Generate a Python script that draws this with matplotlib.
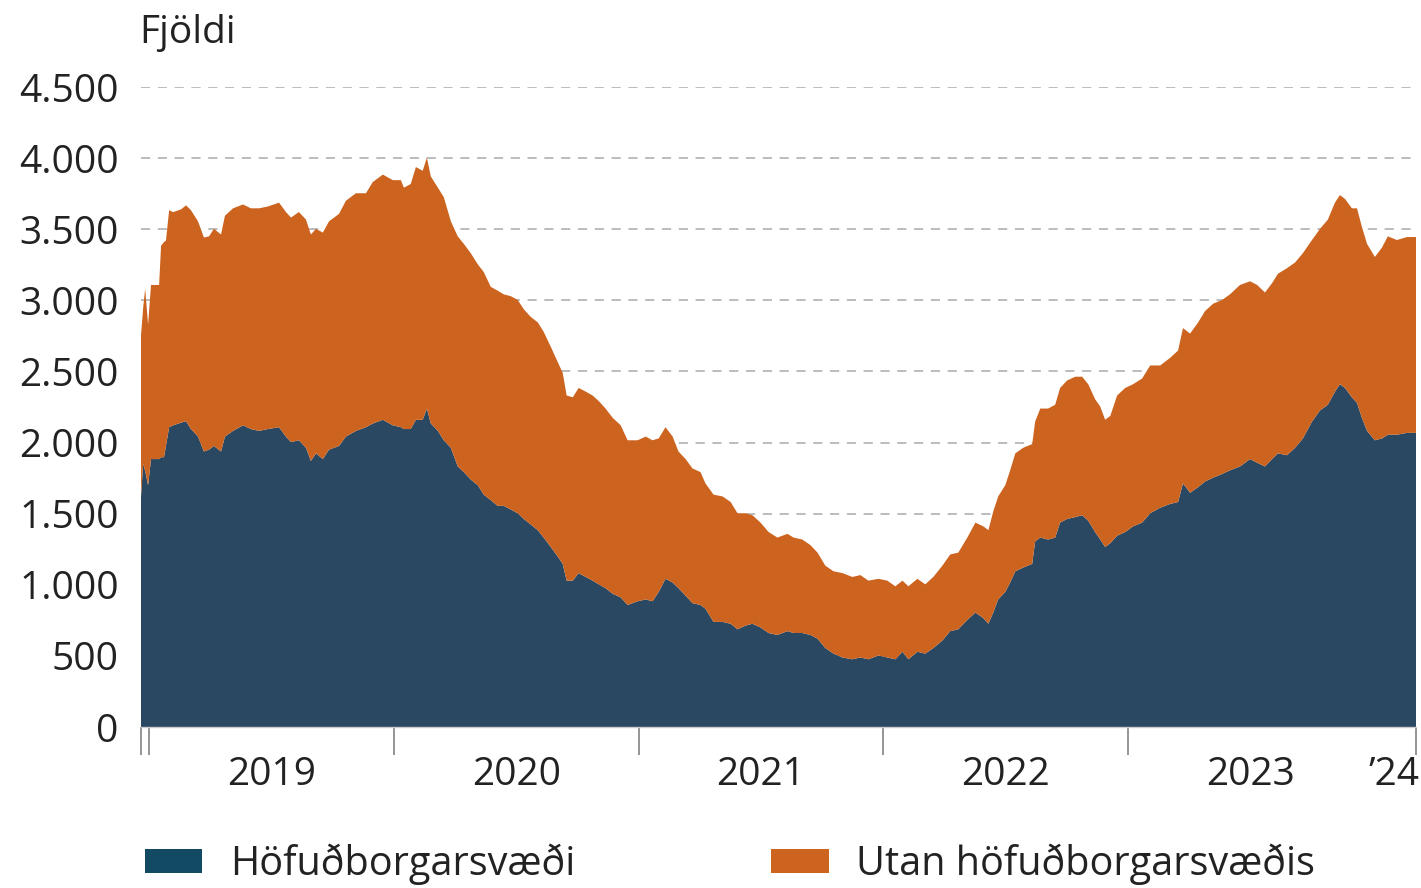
import numpy as np
import matplotlib
matplotlib.use("Agg")
import matplotlib.pyplot as plt
from matplotlib.patches import Patch
from matplotlib.ticker import FuncFormatter, FixedLocator

# Tími sem tugabrot af ári (lesið af mynd)
ar = [2018.967, 2018.976, 2018.984, 2018.996, 2019.008, 2019.041, 2019.049, 2019.061,
      2019.069, 2019.082, 2019.098, 2019.131, 2019.151, 2019.171, 2019.200, 2019.224,
      2019.245, 2019.265, 2019.294, 2019.310, 2019.343, 2019.384, 2019.416, 2019.449,
      2019.486, 2019.531, 2019.559, 2019.580, 2019.612, 2019.641, 2019.661, 2019.682,
      2019.710, 2019.735, 2019.776, 2019.804, 2019.845, 2019.886, 2019.914, 2019.955,
      2019.996, 2020.029, 2020.041, 2020.069, 2020.090, 2020.118, 2020.135, 2020.151,
      2020.180, 2020.204, 2020.233, 2020.261, 2020.286, 2020.314, 2020.343, 2020.367,
      2020.396, 2020.424, 2020.449, 2020.478, 2020.506, 2020.531, 2020.559, 2020.588,
      2020.612, 2020.641, 2020.669, 2020.690, 2020.706, 2020.731, 2020.755, 2020.784,
      2020.812, 2020.837, 2020.865, 2020.894, 2020.927, 2020.955, 2020.996, 2021.029,
      2021.057, 2021.082, 2021.110, 2021.139, 2021.163, 2021.192, 2021.220, 2021.253,
      2021.273, 2021.306, 2021.343, 2021.376, 2021.404, 2021.437, 2021.465, 2021.498,
      2021.531, 2021.567, 2021.608, 2021.633, 2021.669, 2021.702, 2021.731, 2021.763,
      2021.796, 2021.833, 2021.873, 2021.906, 2021.939, 2021.980, 2022.016, 2022.049,
      2022.078, 2022.102, 2022.139, 2022.171, 2022.204, 2022.241, 2022.273, 2022.306,
      2022.343, 2022.376, 2022.408, 2022.429, 2022.449, 2022.469, 2022.498, 2022.518,
      2022.539, 2022.571, 2022.608, 2022.620, 2022.641, 2022.673, 2022.702, 2022.722,
      2022.751, 2022.784, 2022.812, 2022.837, 2022.865, 2022.886, 2022.906, 2022.927,
      2022.955, 2022.988, 2023.020, 2023.057, 2023.090, 2023.131, 2023.171, 2023.204,
      2023.224, 2023.253, 2023.286, 2023.314, 2023.347, 2023.384, 2023.416, 2023.457,
      2023.498, 2023.527, 2023.559, 2023.588, 2023.612, 2023.649, 2023.682, 2023.714,
      2023.751, 2023.784, 2023.816, 2023.845, 2023.865, 2023.886, 2023.914, 2023.935,
      2023.955, 2023.976, 2024.008, 2024.037, 2024.061, 2024.098, 2024.139, 2024.176]

# Heildarfjöldi (efri brún)
heild = [2753, 2950, 3082, 2830, 3108, 3108, 3384, 3410,
         3420, 3634, 3620, 3640, 3668, 3634, 3555, 3442,
         3450, 3503, 3463, 3595, 3647, 3674, 3647, 3647,
         3660, 3687, 3621, 3582, 3621, 3568, 3463, 3503,
         3476, 3555, 3608, 3700, 3753, 3753, 3832, 3884,
         3845, 3845, 3792, 3818, 3937, 3911, 4003, 3871,
         3792, 3726, 3555, 3450, 3397, 3332, 3253, 3200,
         3095, 3068, 3042, 3029, 3003, 2937, 2884, 2845,
         2779, 2674, 2568, 2489, 2331, 2318, 2384, 2358,
         2331, 2292, 2239, 2174, 2121, 2016, 2016, 2042,
         2016, 2029, 2108, 2042, 1937, 1884, 1818, 1792,
         1713, 1634, 1621, 1582, 1503, 1503, 1489, 1437,
         1371, 1332, 1358, 1332, 1318, 1279, 1226, 1134,
         1095, 1082, 1055, 1068, 1029, 1042, 1029, 989,
         1029, 989, 1042, 1003, 1055, 1134, 1213, 1226,
         1332, 1437, 1411, 1384, 1516, 1621, 1700, 1805,
         1924, 1963, 1989, 2147, 2239, 2239, 2266, 2384,
         2437, 2463, 2463, 2410, 2305, 2253, 2160, 2187,
         2331, 2384, 2410, 2450, 2542, 2542, 2595, 2647,
         2805, 2766, 2845, 2924, 2976, 3003, 3042, 3108,
         3134, 3108, 3055, 3121, 3187, 3226, 3266, 3332,
         3424, 3503, 3568, 3687, 3740, 3713, 3647, 3647,
         3516, 3397, 3305, 3371, 3450, 3424, 3445, 3445]

# Höfuðborgarsvæði (neðra lag)
hofud = [1621, 1850, 1800, 1700, 1884, 1884, 1897, 1897,
         1976, 2108, 2121, 2140, 2150, 2095, 2042, 1937,
         1950, 1976, 1937, 2042, 2082, 2121, 2095, 2082,
         2095, 2108, 2042, 2003, 2016, 1963, 1871, 1924,
         1884, 1950, 1976, 2042, 2082, 2108, 2134, 2160,
         2121, 2108, 2095, 2095, 2160, 2160, 2239, 2134,
         2082, 2016, 1963, 1832, 1792, 1740, 1700, 1634,
         1595, 1555, 1555, 1529, 1503, 1463, 1424, 1384,
         1332, 1266, 1200, 1147, 1029, 1029, 1082, 1055,
         1029, 1003, 976, 937, 911, 858, 884, 897,
         884, 950, 1042, 1016, 976, 924, 871, 858,
         832, 739, 739, 726, 687, 713, 726, 700,
         661, 647, 674, 661, 661, 647, 621, 555,
         516, 489, 476, 489, 476, 503, 489, 476,
         529, 476, 529, 516, 555, 608, 674, 687,
         753, 805, 766, 726, 805, 897, 950, 1016,
         1095, 1121, 1147, 1305, 1332, 1318, 1332, 1437,
         1463, 1476, 1489, 1450, 1371, 1318, 1266, 1292,
         1345, 1371, 1411, 1437, 1503, 1542, 1568, 1582,
         1713, 1647, 1687, 1726, 1753, 1779, 1805, 1832,
         1884, 1858, 1832, 1884, 1924, 1911, 1963, 2029,
         2147, 2226, 2266, 2358, 2410, 2384, 2318, 2279,
         2174, 2082, 2016, 2029, 2055, 2055, 2068, 2068]

utan = np.array(heild) - np.array(hofud)

ar_skil = [2019, 2020, 2021, 2022, 2023, 2024]
ar_merki = ["2019", "2020", "2021", "2022", "2023", "\u201924"]
y_merki = [0, 500, 1000, 1500, 2000, 2500, 3000, 3500, 4000, 4500]

blar = "#2b4862"
appelsinugulur = "#cc631e"

plt.rcParams["font.family"] = ["Open Sans", "DejaVu Sans"]

fig = plt.figure(figsize=(14.21, 8.88), dpi=100)
ax = fig.add_axes([141 / 1421, 1 - 727 / 888, (1416 - 141) / 1421, (727 - 87) / 888])

ax.stackplot(ar, hofud, utan, colors=[blar, appelsinugulur], linewidth=0)

ax.set_xlim(ar[0], ar[-1])
ax.set_ylim(0, 4500)
ax.set_yticks(y_merki)
ax.yaxis.set_major_formatter(FuncFormatter(lambda v, p: f"{int(v):,}".replace(",", ".")))
ax.grid(axis="y", color="#aaaaaa", linestyle=(0, (6, 5)), linewidth=1.1)
ax.set_axisbelow(True)

# stórmerki við áramót og enda gagna, ártöl mitt á milli
ax.xaxis.set_major_locator(FixedLocator([ar[0]] + ar_skil[:5] + [ar[-1]]))
ax.xaxis.set_major_formatter(FuncFormatter(lambda v, p: ""))
midjur = [(a + min(a + 1, ar[-1])) / 2 for a in ar_skil]
ax.xaxis.set_minor_locator(FixedLocator(midjur))
ax.set_xticklabels(ar_merki, minor=True)
ax.tick_params(axis="x", which="major", length=20, width=1.3, color="#8c8c8c")
ax.tick_params(axis="x", which="minor", length=0, pad=21, labelsize=28, labelcolor="#222222")
ax.tick_params(axis="y", length=0, pad=16, labelsize=28, labelcolor="#222222")

for s in ["top", "right", "left"]:
    ax.spines[s].set_visible(False)
ax.spines["bottom"].set_color("#cccccc")
ax.spines["bottom"].set_linewidth(1)

fig.text(139 / 1421, 1 - 33 / 888, "Fjöldi", fontsize=28, color="#222222",
         ha="left", va="center")

handles = [Patch(facecolor="#134a63", edgecolor="none"),
           Patch(facecolor=appelsinugulur, edgecolor="none")]
fig.legend(handles, ["Höfuðborgarsvæði", "Utan höfuðborgarsvæðis"],
           loc="center left", bbox_to_anchor=(145 / 1421, 1 - 864 / 888), ncol=2,
           frameon=False, fontsize=28.5, handlelength=1.45, handleheight=0.56,
           handletextpad=0.7, columnspacing=4.95, borderpad=0, borderaxespad=0,
           labelcolor="#222222")

fig.savefig("out.png", dpi=100)
